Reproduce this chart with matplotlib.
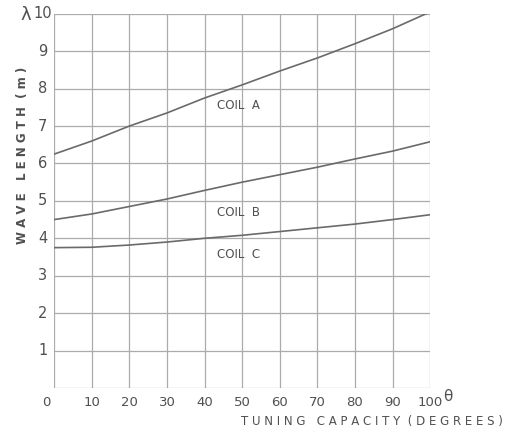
import numpy as np
import matplotlib.pyplot as plt

# tuning capacity in degrees
degrees = [0, 10, 20, 30, 40, 50, 60, 70, 80, 90, 100]

# wave length (m) for each coil
coil_a = [6.25, 6.6, 7.0, 7.35, 7.75, 8.1, 8.47, 8.82, 9.2, 9.6, 10.05]
coil_b = [4.5, 4.65, 4.85, 5.05, 5.28, 5.5, 5.7, 5.9, 6.12, 6.33, 6.58]
coil_c = [3.75, 3.76, 3.82, 3.9, 4.0, 4.08, 4.18, 4.28, 4.38, 4.5, 4.63]

x_ticks = [0, 10, 20, 30, 40, 50, 60, 70, 80, 90, 100]
y_ticks = [0, 1, 2, 3, 4, 5, 6, 7, 8, 9, 10]

ink = "#505050"
grid_col = "#ababab"

fig = plt.figure(figsize=(5.06, 4.32), dpi=100)
ax = fig.add_axes([0.107, 0.102, 0.743, 0.866])

for xv in x_ticks:
    ax.axvline(xv, color=grid_col, lw=0.9, zorder=1)
for yv in y_ticks:
    ax.axhline(yv, color=grid_col, lw=0.9, zorder=1)

for ys in (coil_a, coil_b, coil_c):
    ax.plot(degrees, ys, color="#6a6a6a", lw=1.2, zorder=2)

ax.set_xlim(0, 100)
ax.set_ylim(0, 10)
for s in ax.spines.values():
    s.set_visible(False)
ax.set_xticks([])
ax.set_yticks([])

# tick labels drawn as plain text, hand-lettered look
for xv in x_ticks:
    dx = -2 if xv == 0 else 0
    ax.text(xv + dx, -0.38, str(xv), ha="center", va="center", fontsize=9.5, color=ink)
for yv in y_ticks[1:]:
    ax.text(-3, yv, str(yv), ha="center", va="center", fontsize=10.5, color=ink)

for lab, yv in (("COIL  A", 7.54), ("COIL  B", 4.68), ("COIL  C", 3.56)):
    ax.text(49, yv, lab, ha="center", va="center", fontsize=8.5, color=ink)

fig.text(0.05, 0.965, "λ", ha="center", va="center", fontsize=13, color=ink)
fig.text(0.045, 0.64, "W A V E   L E N G T H  ( m )", rotation=90,
         ha="center", va="center", fontsize=8.5, color=ink, fontweight="bold")
fig.text(0.735, 0.025, "T U N I N G   C A P A C I T Y  ( D E G R E E S )",
         ha="center", va="center", fontsize=8.5, color=ink)
fig.text(0.885, 0.083, "θ", ha="center", va="center", fontsize=11, color=ink)

fig.savefig("out.png", dpi=100, facecolor="white")
